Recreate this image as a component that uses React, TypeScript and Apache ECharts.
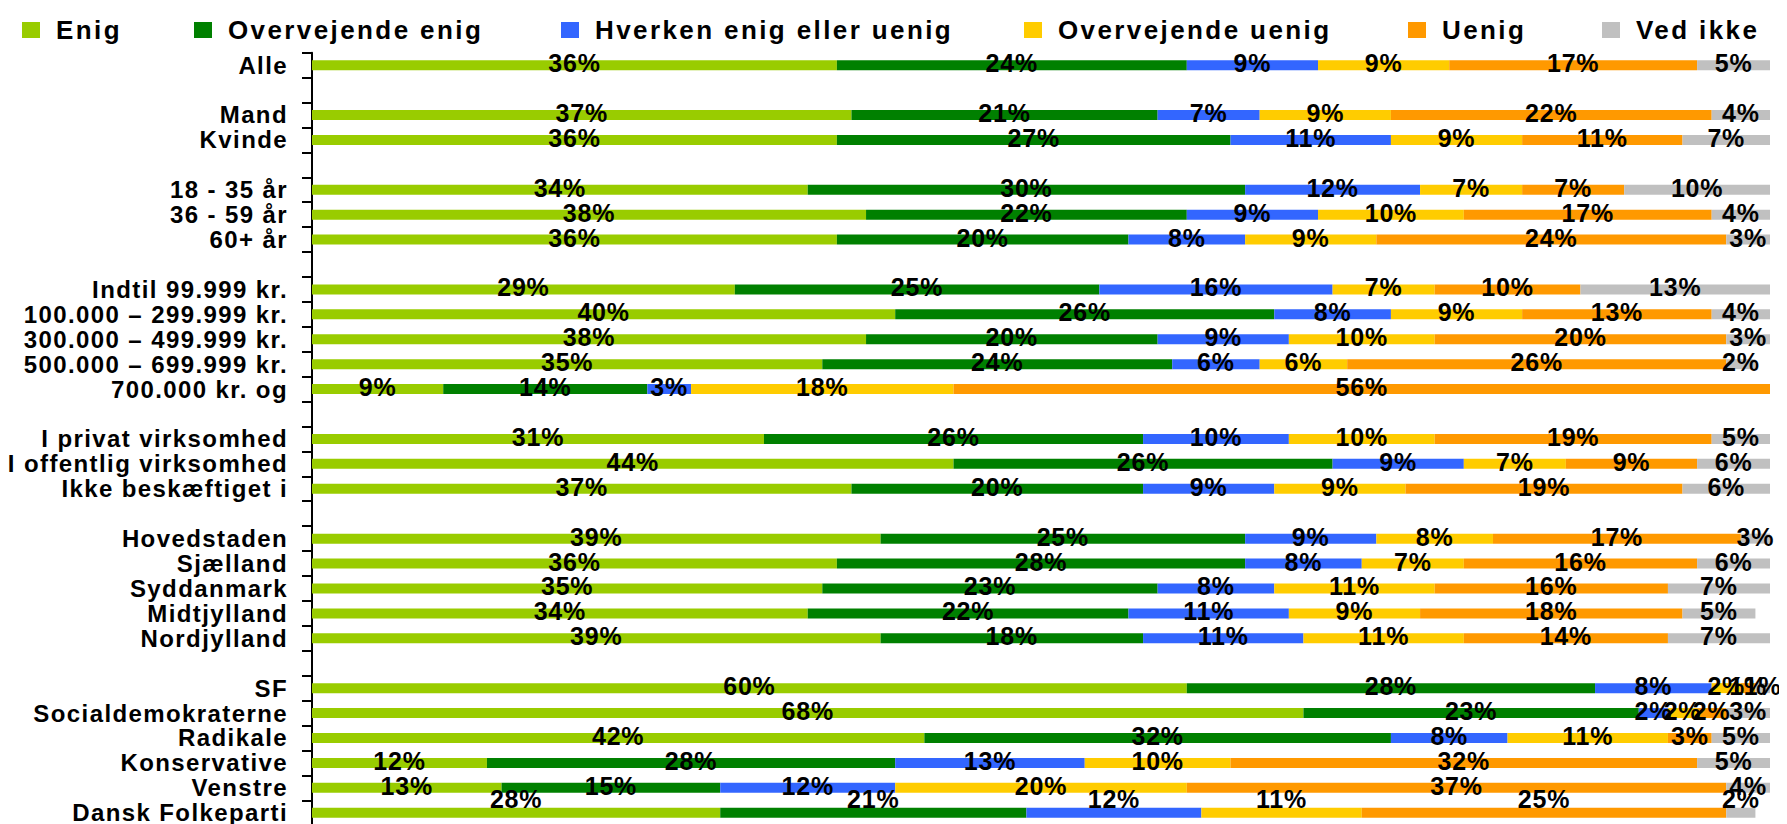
import React, { useEffect, useRef } from "react";
import * as echarts from "echarts";

const categories: string[] = [
  "Alle",
  "",
  "Mand",
  "Kvinde",
  " ",
  "18 - 35 år",
  "36 - 59 år",
  "60+ år",
  "  ",
  "Indtil 99.999 kr.",
  "100.000 – 299.999 kr.",
  "300.000 – 499.999 kr.",
  "500.000 – 699.999 kr.",
  "700.000 kr. og",
  "   ",
  "I privat virksomhed",
  "I offentlig virksomhed",
  "Ikke beskæftiget i",
  "    ",
  "Hovedstaden",
  "Sjælland",
  "Syddanmark",
  "Midtjylland",
  "Nordjylland",
  "     ",
  "SF",
  "Socialdemokraterne",
  "Radikale",
  "Konservative",
  "Venstre",
  "Dansk Folkeparti",
];

const seriesNames: string[] = [
  "Enig",
  "Overvejende enig",
  "Hverken enig eller uenig",
  "Overvejende uenig",
  "Uenig",
  "Ved ikke",
];

const enig: (number | null)[] = [36, null, 37, 36, null, 34, 38, 36, null, 29, 40, 38, 35, 9, null, 31, 44, 37, null, 39, 36, 35, 34, 39, null, 60, 68, 42, 12, 13, 28];
const overvejendeEnig: (number | null)[] = [24, null, 21, 27, null, 30, 22, 20, null, 25, 26, 20, 24, 14, null, 26, 26, 20, null, 25, 28, 23, 22, 18, null, 28, 23, 32, 28, 15, 21];
const hverken: (number | null)[] = [9, null, 7, 11, null, 12, 9, 8, null, 16, 8, 9, 6, 3, null, 10, 9, 9, null, 9, 8, 8, 11, 11, null, 8, 2, 8, 13, 12, 12];
const overvejendeUenig: (number | null)[] = [9, null, 9, 9, null, 7, 10, 9, null, 7, 9, 10, 6, 18, null, 10, 7, 9, null, 8, 7, 11, 9, 11, null, 2, 2, 11, 10, 20, 11];
const uenig: (number | null)[] = [17, null, 22, 11, null, 7, 17, 24, null, 10, 13, 20, 26, 56, null, 19, 9, 19, null, 17, 16, 16, 18, 14, null, 1, 2, 3, 32, 37, 25];
const vedIkke: (number | null)[] = [5, null, 4, 7, null, 10, 4, 3, null, 13, 4, 3, 2, 0, null, 5, 6, 6, null, 3, 6, 7, 5, 7, null, 1, 3, 5, 5, 4, 2];

const seriesValues = [enig, overvejendeEnig, hverken, overvejendeUenig, uenig, vedIkke];
const colors = ["#99CC00", "#008000", "#3366FF", "#FFCC00", "#FF9900", "#C0C0C0"];
const legendLefts = [9, 181, 548, 1011, 1395, 1589];

const FONT = "'Liberation Sans', Arial, Helvetica, sans-serif";

export default function App() {
  const ref = useRef<HTMLDivElement>(null);

  useEffect(() => {
    if (!ref.current) return;
    const chart = echarts.init(ref.current, undefined, { renderer: "svg" });
    const lastIdx = categories.length - 1;

    const series = seriesNames.map((name, si) => ({
      name,
      type: "bar",
      stack: "total",
      barWidth: 10,
      itemStyle: { color: colors[si] },
      label: {
        show: true,
        position: "inside",
        offset: [0, -2],
        color: "#000",
        fontFamily: FONT,
        fontWeight: "bold",
        fontSize: 25,
        formatter: (p: any) => (p.value ? `${p.value}%` : ""),
      },
      data: seriesValues[si].map((v, i) =>
        i === lastIdx ? { value: v, label: { offset: [0, -14] } } : v
      ),
    }));

    chart.setOption({
      animation: false,
      legend: seriesNames.map((name, si) => ({
        data: [name],
        left: legendLefts[si],
        top: 4,
        itemWidth: 18,
        itemHeight: 16,
        icon: "rect",
        textStyle: {
          color: "#000",
          fontFamily: FONT,
          fontWeight: "bold",
          fontSize: 26,
          padding: [0, 0, 0, 11],
        },
      })),
      grid: {
        left: 304,
        right: 9,
        top: 44.7,
        height: 772.5,
        containLabel: false,
        outerBoundsMode: "none",
      },
      xAxis: {
        type: "value",
        min: 0,
        max: 100,
        show: false,
      },
      yAxis: {
        type: "category",
        inverse: true,
        data: categories,
        axisLine: { show: true, lineStyle: { color: "#000", width: 2 } },
        axisTick: { show: true, length: 10, lineStyle: { color: "#000", width: 2 } },
        axisLabel: {
          interval: 0,
          margin: 24,
          color: "#000",
          fontFamily: FONT,
          fontWeight: "bold",
          fontSize: 24,
        },
        splitLine: { show: false },
      },
      series,
    });
    return () => chart.dispose();
  }, []);

  return (
    <div id="chart-host">
      <style>{`
        html, body { overflow: hidden; }
        #chart-host text { letter-spacing: 1.2px; }
        #chart-host text[style*="24px"] { letter-spacing: 1.4px; }
        #chart-host text[style*="25px"] { letter-spacing: 0.8px; }
        #chart-host text[style*="26px"] { letter-spacing: 2.4px; }
      `}</style>
      <div ref={ref} style={{ width: 1771, height: 840 }} />
    </div>
  );
}
